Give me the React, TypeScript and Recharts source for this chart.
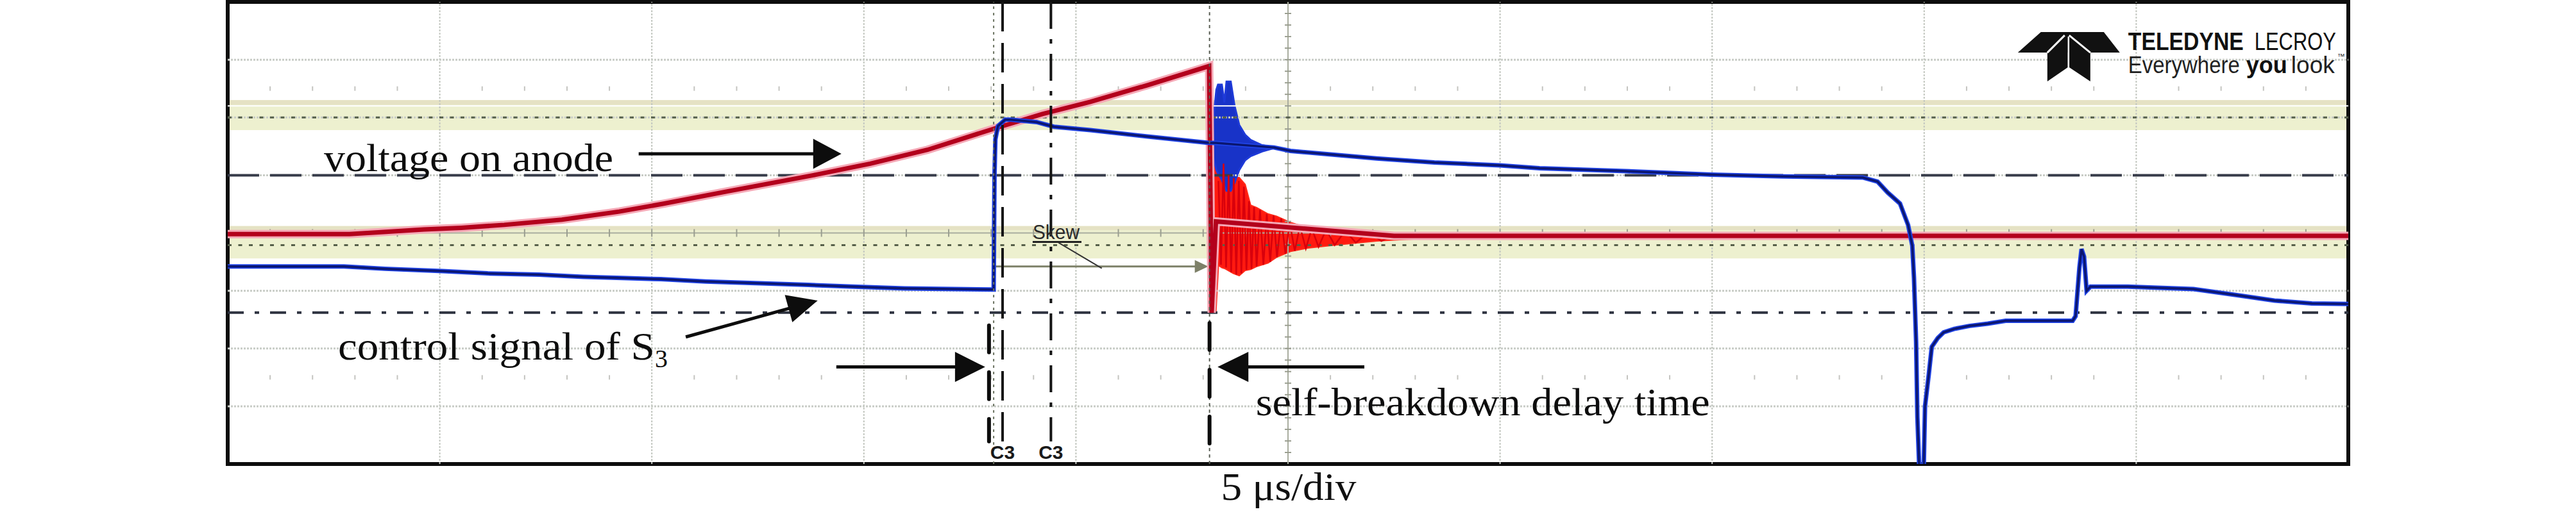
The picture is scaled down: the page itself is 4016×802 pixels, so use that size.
import React from 'react';
import { ComposedChart, Line, Area, XAxis, YAxis, ReferenceLine, ReferenceArea, ReferenceDot } from 'recharts';

// x: time in µs (5 µs/div, 10 div) ; y: screen divisions (-4 .. 4)
const redT = [0, 2.87, 3.55, 4.63, 5.51, 6.52, 7.88, 9.23, 10.3, 11.78, 13.81, 15.15, 16.5, 18.13, 19.21, 20.34, 21.69, 23.14, 23.2, 23.3, 27.5, 50];
const redV = [-0.02, -0.02, 0.01, 0.06, 0.09, 0.14, 0.23, 0.37, 0.51, 0.72, 1.0, 1.2, 1.44, 1.82, 2.06, 2.27, 2.56, 2.89, -1.38, 0.2, -0.05, -0.05];

const redRingT = [23.2, 23.3, 23.36, 23.44, 23.52, 23.71, 23.85, 23.99, 24.12, 24.26, 24.53, 24.73, 25.06, 25.47, 26.09, 27.09, 27.77, 28.81];
const redRingLo = [-1.38, -1.38, -0.56, -0.6, -0.62, -0.7, -0.74, -0.65, -0.63, -0.58, -0.52, -0.42, -0.32, -0.26, -0.21, -0.14, -0.11, -0.08];
const redRingHi = [1.89, 1.89, 1.89, 1.89, 1.29, 0.96, 0.96, 0.84, 0.48, 0.44, 0.33, 0.29, 0.18, 0.09, 0.06, 0.01, -0.01, -0.03];

// fast ringing of the anode voltage, read peak by peak
const redZigT = [23.36, 23.42, 23.48, 23.54, 23.6, 23.66, 23.72, 23.78, 23.84, 23.9, 23.96, 24.02, 24.08, 24.14, 24.2, 24.26, 24.34, 24.42, 24.5, 24.58, 24.66, 24.74, 24.84, 24.94, 25.04, 25.16, 25.28, 25.42, 25.56, 25.72, 25.9, 26.1, 26.35, 26.6, 26.9, 27.2, 27.6, 28.0];
const redZigV = [0.9, -0.55, 1.2, -0.6, 1.0, -0.68, 0.95, -0.72, 0.9, -0.7, 0.8, -0.64, 0.55, -0.62, 0.45, -0.58, 0.4, -0.55, 0.33, -0.5, 0.3, -0.42, 0.25, -0.36, 0.18, -0.31, 0.12, -0.27, 0.08, -0.24, 0.06, -0.21, 0.04, -0.17, 0.02, -0.14, 0.0, -0.1];

const blueT = [0, 2.74, 3.71, 5.07, 6.13, 7.34, 8.39, 9.3, 10.21, 11.27, 12.55, 13.69, 14.75, 15.96, 18.03, 18.06, 18.08, 18.1, 18.16, 18.33, 18.47, 19.07, 19.48, 20.34, 21.69, 23.14, 23.3, 24.67, 25.06, 27.09, 28.45, 29.99, 30.93, 32.96, 34.98, 36.66, 38.55, 38.9, 39.14, 39.43, 39.62, 39.72, 39.76, 39.81, 39.84, 39.88, 39.92, 39.98, 40.02, 40.11, 40.18, 40.32, 40.46, 40.71, 41.06, 41.5, 41.92, 43.5, 43.57, 43.66, 43.71, 43.77, 43.83, 43.92, 44.8, 46.35, 47.4, 48.26, 49.14, 50];
const blueV = [-0.58, -0.58, -0.62, -0.66, -0.7, -0.72, -0.76, -0.78, -0.8, -0.84, -0.87, -0.9, -0.93, -0.96, -0.98, -0.98, 1.0, 1.62, 1.85, 1.96, 1.96, 1.92, 1.84, 1.78, 1.67, 1.56, 1.56, 1.48, 1.42, 1.29, 1.22, 1.17, 1.12, 1.07, 1.01, 0.98, 0.96, 0.89, 0.7, 0.51, 0.14, -0.22, -0.78, -1.89, -3.19, -3.99, -4.4, -4.4, -3.0, -2.44, -1.97, -1.82, -1.72, -1.66, -1.61, -1.57, -1.52, -1.52, -1.44, -0.6, -0.28, -0.41, -1.0, -0.93, -0.93, -0.97, -1.08, -1.17, -1.22, -1.23];

const blueRingT = [23.17, 23.22, 23.31, 23.35, 23.44, 23.5, 23.55, 23.65, 23.74, 23.85, 23.99, 24.12, 24.39, 24.67];
const blueRingLo = [1.56, 1.37, 1.09, 1.03, 0.92, 0.81, 0.73, 0.73, 0.87, 1.09, 1.26, 1.33, 1.41, 1.47];
const blueRingHi = [1.56, 1.81, 2.48, 2.57, 2.57, 2.26, 2.62, 2.62, 2.2, 1.87, 1.7, 1.61, 1.52, 1.48];

const gridX = [5, 10, 15, 20, 30, 35, 40, 45];
const gridY = [-3, -2, -1, 1, 2, 3];

const labels = {
  anode: 'voltage on anode',
  control: 'control signal of S',
  delay: 'self-breakdown delay time',
  axis: '5 μs/div',
  cursor: 'C3',
  skew: 'Skew',
};

const redData = redT.map((t, i) => ({ t, v: redV[i] }));
const redZig = redZigT.map((t, i) => ({ t, v: redZigV[i] }));
const blueData = blueT.map((t, i) => ({ t, v: blueV[i] }));
const redRing = redRingT.map((t, i) => ({ t, r: [redRingLo[i], redRingHi[i]] }));
const blueRing = blueRingT.map((t, i) => ({ t, r: [blueRingLo[i], blueRingHi[i]] }));

const SERIF = "'Liberation Serif', 'Times New Roman', serif";
const SANS = "'Liberation Sans', Arial, sans-serif";

const arrow = (headLen: number, headHalf: number, width: number, color: string) => (p: any) => {
  const { x1, y1, x2, y2 } = p;
  const dx = x2 - x1, dy = y2 - y1;
  const len = Math.hypot(dx, dy) || 1;
  const ux = dx / len, uy = dy / len;
  const bx = x2 - ux * headLen, by = y2 - uy * headLen;
  const nx = -uy, ny = ux;
  return (
    <g>
      <line x1={x1} y1={y1} x2={bx + ux * 2} y2={by + uy * 2} stroke={color} strokeWidth={width} />
      <polygon points={`${x2},${y2} ${bx + nx * headHalf},${by + ny * headHalf} ${bx - nx * headHalf},${by - ny * headHalf}`} fill={color} />
    </g>
  );
};

const hTicks = (n: number, len: number, color: string, drawLine: boolean, skipEvery: number) => (p: any) => {
  const { x1, y1, x2 } = p;
  const step = (x2 - x1) / n;
  const ticks = [];
  for (let i = 1; i < n; i++) {
    if (skipEvery && i % skipEvery === 0) continue;
    const x = x1 + i * step;
    ticks.push(<line key={i} x1={x} x2={x} y1={y1 - len / 2} y2={y1 + len / 2} stroke={color} strokeWidth={2} />);
  }
  return (
    <g>
      {drawLine && <line x1={x1} x2={x2} y1={y1} y2={y1} stroke="#a9ad9f" strokeWidth={2} />}
      {ticks}
    </g>
  );
};

const vTicks = (n: number, len: number, color: string) => (p: any) => {
  const { x1, y1, y2 } = p;
  const top = Math.min(y1, y2), bot = Math.max(y1, y2);
  const step = (bot - top) / n;
  const ticks = [];
  for (let i = 1; i < n; i++) {
    const y = top + i * step;
    ticks.push(<line key={i} x1={x1 - len / 2} x2={x1 + len / 2} y1={y} y2={y} stroke={color} strokeWidth={2} />);
  }
  return (
    <g>
      <line x1={x1} x2={x1} y1={top} y2={bot} stroke="#a9ad9f" strokeWidth={2} />
      {ticks}
    </g>
  );
};

const textShape = (text: string, opts: any) => (p: any) => (
  <text x={p.cx} y={p.cy} {...opts}>{text}</text>
);

const logoShape = (p: any) => {
  const x = p.cx, y = p.cy;
  const pts = (arr: number[][]) => arr.map(([a, b]) => `${x + a},${y + b}`).join(' ');
  return (
    <g>
      <polygon points={pts([[-136, -28], [-38, -28], [-13, 4], [-172, 4]])} fill="#111" />
      <polygon points={pts([[-126, 4], [-94, 4], [-94, 27], [-126, 49]])} fill="#111" />
      <polygon points={pts([[-92, 4], [-59, 4], [-59, 49], [-92, 27]])} fill="#111" />
      <line x1={x - 99} y1={y - 23} x2={x - 126} y2={y + 4} stroke="#fff" strokeWidth={3} />
      <line x1={x - 92} y1={y - 23} x2={x - 59} y2={y + 4} stroke="#fff" strokeWidth={3} />
      <line x1={x - 93} y1={y - 21} x2={x - 93} y2={y + 49} stroke="#fff" strokeWidth={2.5} />
      <text x={x} y={y} fontFamily={SANS} fontWeight="bold" fontSize={38} fill="#111" textLength={180} lengthAdjust="spacingAndGlyphs">TELEDYNE</text>
      <text x={x + 197} y={y} fontFamily={SANS} fontSize={38} fill="#111" textLength={127} lengthAdjust="spacingAndGlyphs">LECROY</text>
      <text x={x} y={y + 36} fontFamily={SANS} fontSize={36} fill="#222" textLength={174} lengthAdjust="spacingAndGlyphs">Everywhere</text>
      <text x={x + 184} y={y + 36} fontFamily={SANS} fontWeight="bold" fontSize={36} fill="#111" textLength={64} lengthAdjust="spacingAndGlyphs">you</text>
      <text x={x + 254} y={y + 36} fontFamily={SANS} fontSize={36} fill="#222" textLength={68} lengthAdjust="spacingAndGlyphs">look</text>
      <text x={x + 326} y={y + 14} fontFamily={SANS} fontSize={12} fill="#222">™</text>
    </g>
  );
};

const axisLabel = (props: any) => {
  const vb = props.viewBox || { x: 355, y: 724, width: 3306, height: 78 };
  return (
    <text x={vb.x + vb.width / 2 + 1} y={vb.y + 56} textAnchor="middle" fontFamily={SERIF} fontSize={62} fill="#111" textLength={211} lengthAdjust="spacingAndGlyphs">
      {labels.axis}
    </text>
  );
};

export default function App() {
  return (
    <div style={{ position: 'absolute', left: 0, top: 0, width: 4016, height: 802, background: '#fff' }}>
      <ComposedChart width={4016} height={802} margin={{ top: 3, right: 355, bottom: 0, left: 355 }}>
        <XAxis type="number" dataKey="t" domain={[0, 50]} allowDataOverflow height={78} tick={false} tickLine={false} axisLine={false} label={axisLabel} />
        <YAxis type="number" domain={[-4, 4]} allowDataOverflow hide />

        {/* threshold bands */}
        <ReferenceArea x1={0} x2={50} y1={1.78} y2={2.3} fill="#edf0cf" fillOpacity={1} stroke="none" />
        <ReferenceArea x1={0} x2={50} y1={2.22} y2={2.3} fill="#e5e2c4" fillOpacity={1} stroke="none" />
        <ReferenceLine y={2.2} stroke="#ffffff" strokeWidth={2} />
        <ReferenceArea x1={0} x2={50} y1={-0.44} y2={0.12} fill="#edf0cf" fillOpacity={1} stroke="none" />
        <ReferenceArea x1={0} x2={50} y1={0.05} y2={0.12} fill="#e5e2c4" fillOpacity={1} stroke="none" />

        {/* graticule */}
        {gridX.map((x) => (
          <ReferenceLine key={'gx' + x} x={x} stroke="#c3c7c0" strokeWidth={2} strokeDasharray="3 2" />
        ))}
        {gridY.map((y) => (
          <ReferenceLine key={'gy' + y} y={y} stroke="#c8ccc6" strokeWidth={3} strokeDasharray="3 2" />
        ))}
        <ReferenceLine y={0} shape={hTicks(50, 12, '#9a9e90', true, 0)} />
        <ReferenceLine x={25} shape={vTicks(40, 10, '#9a9e90')} />
        <ReferenceLine y={2.5} shape={hTicks(50, 7, '#c4c4c0', false, 5)} />
        <ReferenceLine y={-2.5} shape={hTicks(50, 7, '#c4c4c0', false, 5)} />

        {/* level markers */}
        <ReferenceLine y={2.0} stroke="#56604a" strokeWidth={3} strokeDasharray="6 10.5" />
        <ReferenceLine y={-0.21} stroke="#56604a" strokeWidth={3} strokeDasharray="6 10.5" />
        <ReferenceLine y={1.0} stroke="#363b49" strokeWidth={4} strokeDasharray="49 17" />
        <ReferenceLine y={-1.38} stroke="#2e3340" strokeWidth={4} strokeDasharray="25 17 7 17" />

        {/* skew measurement */}
        <ReferenceLine segment={[{ x: 18.06, y: -0.58 }, { x: 23.12, y: -0.58 }]} shape={arrow(21, 10, 3, '#7d8068')} />

        {/* traces */}
        <Area data={redRing} dataKey="r" type="linear" stroke="#ff2a1a" strokeWidth={2} fill="#ff1a10" fillOpacity={1} dot={false} activeDot={false} isAnimationActive={false} />
        <Line data={redZig} dataKey="v" type="linear" stroke="#d8000c" strokeWidth={2.5} dot={false} activeDot={false} isAnimationActive={false} />
        <Line data={redData} dataKey="v" type="linear" stroke="#f5a8b6" strokeWidth={13} dot={false} activeDot={false} isAnimationActive={false} />
        <Line data={redData} dataKey="v" type="linear" stroke="#b3001c" strokeWidth={7} dot={false} activeDot={false} isAnimationActive={false} />
        <Area data={blueRing} dataKey="r" type="linear" stroke="#1e3ad8" strokeWidth={3} fill="#1833c8" fillOpacity={1} dot={false} activeDot={false} isAnimationActive={false} />
        <Line data={blueData} dataKey="v" type="linear" stroke="#2144e6" strokeWidth={7} dot={false} activeDot={false} isAnimationActive={false} />
        <Line data={blueData} dataKey="v" type="linear" stroke="#0a1670" strokeWidth={3.5} dot={false} activeDot={false} isAnimationActive={false} />

        {/* cursors */}
        <ReferenceLine x={18.06} stroke="#6a7260" strokeWidth={2} strokeDasharray="4 6" />
        <ReferenceLine x={23.15} stroke="#5a5f55" strokeWidth={2} strokeDasharray="5 5" />
        <ReferenceLine segment={[{ x: 18.27, y: 4 }, { x: 18.27, y: -3.61 }]} stroke="#141414" strokeWidth={4} strokeDasharray="46 18" />
        <ReferenceLine segment={[{ x: 19.41, y: 4 }, { x: 19.41, y: -3.61 }]} stroke="#141414" strokeWidth={4} strokeDasharray="42 16 7 16" />
        <ReferenceLine segment={[{ x: 17.95, y: -1.6 }, { x: 17.95, y: -3.61 }]} stroke="#0c0c0c" strokeWidth={6} strokeDasharray="42 31" strokeLinecap="round" />
        <ReferenceLine segment={[{ x: 23.15, y: -1.56 }, { x: 23.15, y: -3.97 }]} stroke="#0c0c0c" strokeWidth={6} strokeDasharray="42 31" strokeLinecap="round" />
        <ReferenceDot x={18.27} y={-3.91} r={2} shape={textShape(labels.cursor, { textAnchor: 'middle', fontFamily: SANS, fontWeight: 'bold', fontSize: 30, fill: '#1a1a1a' })} />
        <ReferenceDot x={19.41} y={-3.91} r={2} shape={textShape(labels.cursor, { textAnchor: 'middle', fontFamily: SANS, fontWeight: 'bold', fontSize: 30, fill: '#1a1a1a' })} />
        <ReferenceDot x={18.98} y={-0.1} r={2} shape={textShape(labels.skew, { fontFamily: SANS, fontSize: 31, fill: '#2a2a2a', textLength: 73, lengthAdjust: 'spacingAndGlyphs' })} />
        <ReferenceLine segment={[{ x: 18.98, y: -0.156 }, { x: 20.13, y: -0.156 }]} stroke="#222" strokeWidth={3} />
        <ReferenceLine segment={[{ x: 19.59, y: -0.167 }, { x: 20.61, y: -0.611 }]} stroke="#333" strokeWidth={2} />

        {/* annotations */}
        <ReferenceLine segment={[{ x: 9.69, y: 1.37 }, { x: 14.47, y: 1.37 }]} shape={arrow(44, 23.5, 5, '#0d0d0d')} />
        <ReferenceLine segment={[{ x: 10.8, y: -1.8 }, { x: 13.91, y: -1.17 }]} shape={arrow(47, 22, 5, '#0d0d0d')} />
        <ReferenceLine segment={[{ x: 14.35, y: -2.32 }, { x: 17.86, y: -2.32 }]} shape={arrow(47, 23.5, 5, '#0d0d0d')} />
        <ReferenceLine segment={[{ x: 26.8, y: -2.32 }, { x: 23.34, y: -2.32 }]} shape={arrow(48, 23.5, 5, '#0d0d0d')} />
        <ReferenceDot x={2.27} y={1.067} r={2} shape={textShape(labels.anode, { fontFamily: SERIF, fontSize: 62, fill: '#0d0d0d', textLength: 451, lengthAdjust: 'spacingAndGlyphs' })} />
        <ReferenceDot x={2.6} y={-2.19} r={2} shape={(p: any) => (
          <text x={p.cx} y={p.cy} fontFamily={SERIF} fontSize={62} fill="#0d0d0d">
            <tspan textLength={494} lengthAdjust="spacingAndGlyphs">{labels.control}</tspan>
            <tspan fontSize={40} dy={12}>3</tspan>
          </text>
        )} />
        <ReferenceDot x={24.24} y={-3.16} r={2} shape={textShape(labels.delay, { fontFamily: SERIF, fontSize: 62, fill: '#0d0d0d', textLength: 708, lengthAdjust: 'spacingAndGlyphs' })} />

        {/* logo */}
        <ReferenceDot x={44.81} y={3.167} r={2} shape={logoShape} />

        {/* frame */}
        <ReferenceArea x1={0} x2={50} y1={-4} y2={4} fill="none" stroke="#0d0d0d" strokeWidth={6} />
      </ComposedChart>
    </div>
  );
}
